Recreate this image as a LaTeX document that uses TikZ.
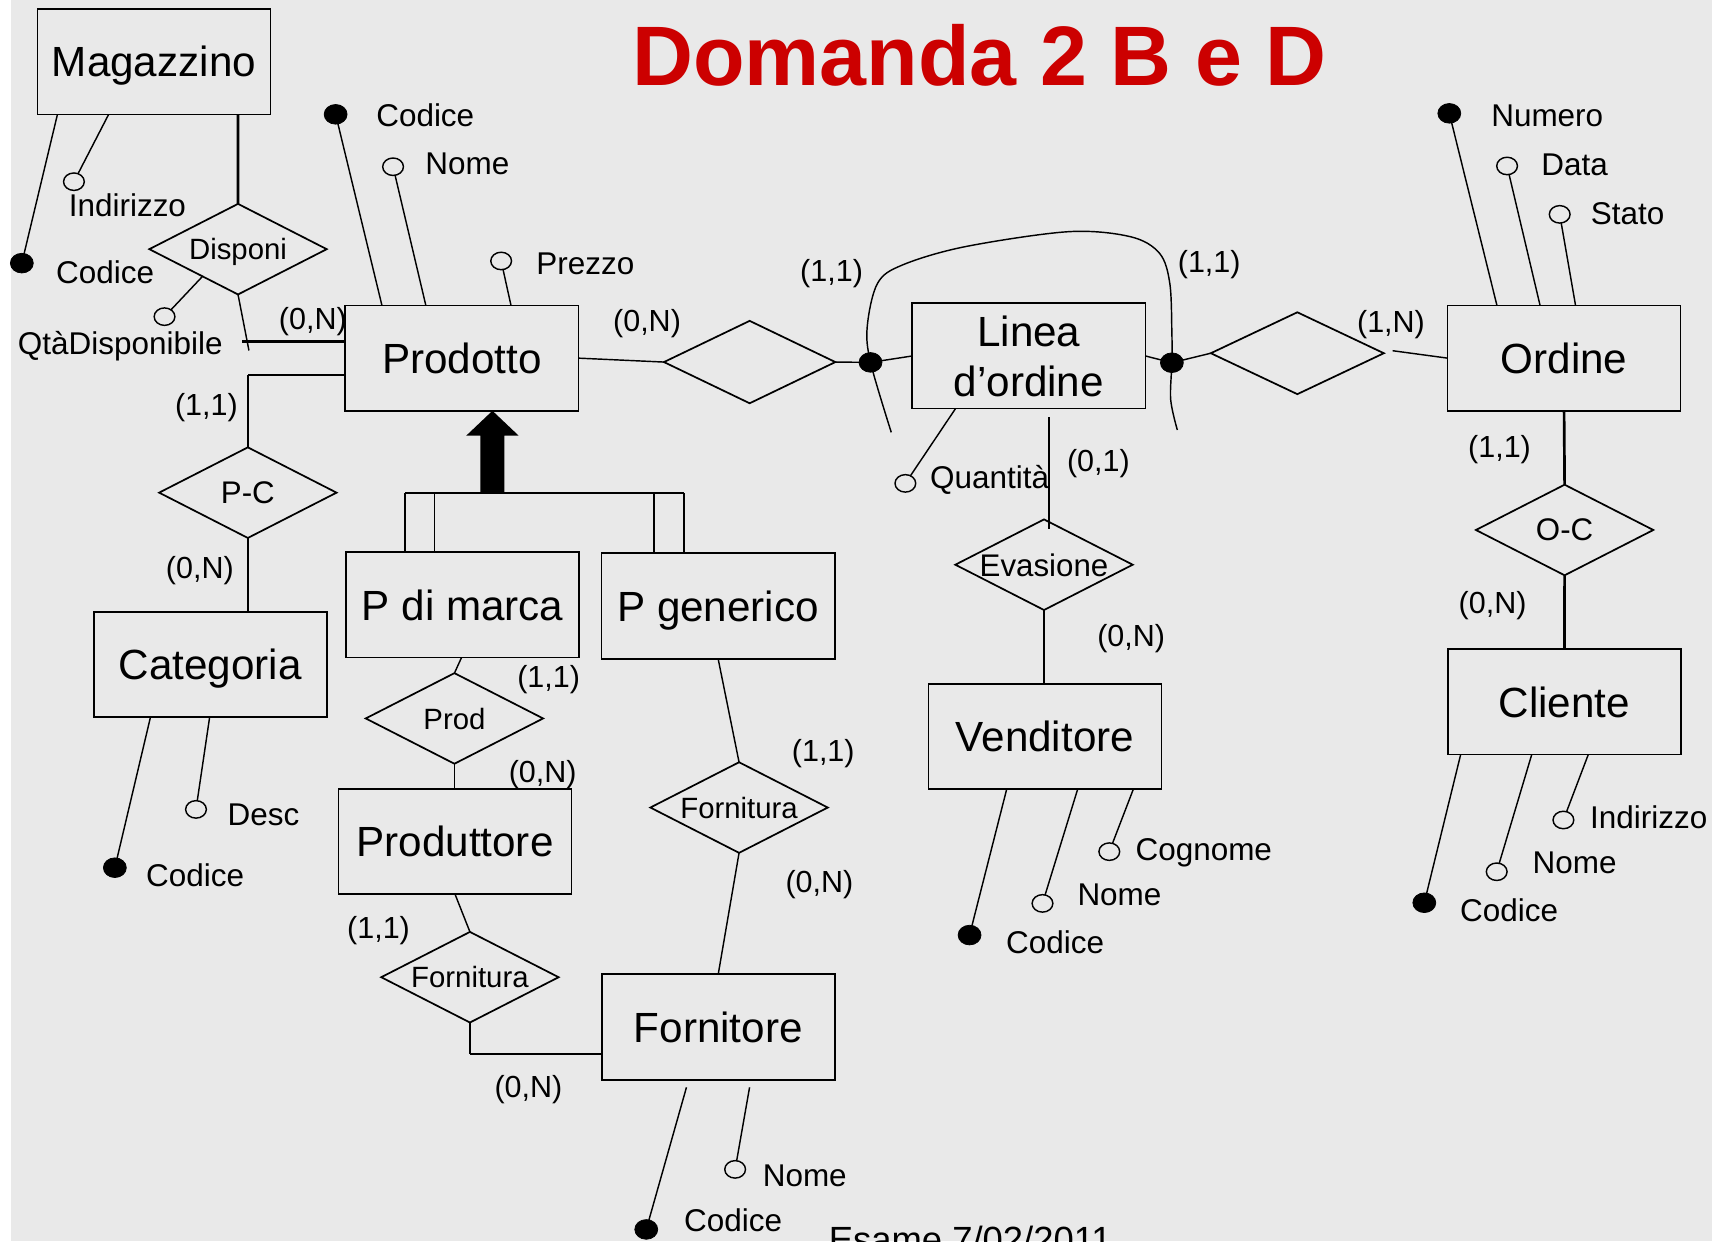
\documentclass[tikz,border=0pt]{standalone}
\usepackage{fontspec}
\setmainfont{Liberation Sans}
\usetikzlibrary{shapes.geometric,calc}
\definecolor{bgcol}{HTML}{E9E9E9}
\definecolor{titred}{HTML}{CC0000}
\newcommand{\entfont}{\fontsize{22}{26}\selectfont}
\newcommand{\attfont}{\fontsize{16.4}{19}\selectfont}
\newcommand{\cardfont}{\fontsize{15.9}{19}\selectfont}
\newcommand{\relfont}{\fontsize{15.3}{18}\selectfont}
\newcommand{\relfontb}{\fontsize{16.3}{19}\selectfont}
\newcommand{\zw}[1]{\makebox[0pt]{#1}}
\begin{document}
\begin{tikzpicture}[x=0.02cm,y=-0.02cm,
 line width=0.75pt,
 entity/.style={draw, rectangle, line width=0.9pt, minimum width=4.27cm, minimum height=1.93cm, inner sep=0pt, outer sep=0pt, font=\entfont, align=center, text depth=0pt},
 rel/.style={draw, diamond, line width=0.9pt, minimum width=3.25cm, minimum height=1.66cm, inner sep=0pt, outer sep=0pt, font=\relfont, text depth=0pt},
 keydot/.style={ellipse, fill=black, draw=black, line width=0.4pt, minimum width=0.42cm, minimum height=0.36cm, inner sep=0pt, outer sep=0pt},
 attc/.style={ellipse, draw, fill=bgcol, line width=0.75pt, minimum width=0.38cm, minimum height=0.32cm, inner sep=0pt, outer sep=0pt},
 attl/.style={anchor=base west, font=\attfont, inner sep=0pt},
 card/.style={font=\cardfont, inner sep=0pt},
 heavy/.style={line width=1.4pt}
]
\useasboundingbox (0,0) rectangle (1568,1137);
\fill[bgcol] (10,0) rectangle (1568,1137);

% title
\node[anchor=base, font=\fontsize{44}{50}\selectfont\bfseries, text=titred, inner sep=0pt] (title) at (897,78) {Domanda 2 B e D};
\node[anchor=base west, font=\fontsize{19}{22}\selectfont, inner sep=0pt] (esame) at (758.4,1147) {Esame 7/02/2011};

% entities
\node[entity] (mag) at (141,56.5) {Magazzino};
\node[entity] (prod) at (423,328) {Prodotto};
\node[entity] (linea) at (942.3,326) {Linea\\d’ordine};
\node[entity] (ordine) at (1432.5,328) {Ordine};
\node[entity] (cat) at (192.5,608.5) {Categoria};
\node[entity] (pmarca) at (423.7,554) {P di marca};
\node[entity] (pgen) at (657.7,555) {P generico};
\node[entity] (produttore) at (416.7,770.6) {Produttore};
\node[entity] (vend) at (957,674.5) {Venditore};
\node[entity] (cliente) at (1432.8,642.7) {Cliente};
\node[entity] (fornitore) at (657.8,940.6) {Fornitore};

% relationships
\node[rel] (disponi) at (218,228.2) {\zw{Disponi}};
\node[rel, minimum width=3.14cm, minimum height=1.51cm] (r1) at (686.6,331.6) {};
\node[rel, minimum width=3.17cm, minimum height=1.5cm] (r2) at (1188.2,323.5) {};
\node[rel, font=\relfontb] (pc) at (227,451.2) {\zw{P-C}};
\node[rel, font=\relfontb] (oc) at (1433,485.4) {\zw{O-C}};
\node[rel, font=\relfontb] (evasione) at (956.2,517.2) {\zw{Evasione}};
\node[rel] (prodr) at (416.2,658) {\zw{Prod}};
\node[rel] (fornR) at (676.9,739.6) {\zw{Fornitura}};
\node[rel] (fornL) at (430.4,895) {\zw{Fornitura}};

% ---------- Magazzino attributes
\node[keydot] (magcod) at (20,241) {};
\node[attl] (magcodl) at (50.8,259.5) {Codice};
\draw ($(mag.south west)+(18.35,0)$) -- (magcod.center);
\node[attc] (magind) at (67.7,166.4) {};
\node[attl] (magindl) at (62.4,198.4) {Indirizzo};
\draw ($(mag.south west)+(65.25,0)$) -- (magind);
\draw[heavy] ($(mag.south west)+(183.75,0)$) -- (disponi.north);

% Disponi attribute and link to Prodotto
\node[attc] (qta) at (150.7,290) {};
\node[attl] (qtal) at (15.8,325) {QtàDisponibile};
\draw ($(disponi.west)!0.6!(disponi.south)$) -- (qta);
\coordinate (dp1) at (228,321);
\coordinate (dp2) at (222,313);
\draw (disponi.south) -- (dp1);
\draw[heavy] (dp2) -- (dp2 -| prod.west);
\node[card] (c1) at (286.5,295) {(0,N)};

% ---------- Prodotto attributes
\node[keydot] (prodcod) at (307.4,104.7) {};
\node[attl] (prodcodl) at (344,116) {Codice};
\draw ($(prod.north west)+(33.55,0)$) -- (prodcod.center);
\node[attc] (prodnom) at (360,152.7) {};
\node[attl] (prodnoml) at (389,160) {Nome};
\draw ($(prod.north west)+(73.75,0)$) -- (prodnom);
\node[attc] (prodprz) at (459,239) {};
\node[attl] (prodprzl) at (490.7,251.5) {Prezzo};
\draw ($(prod.north west)+(151.75,0)$) -- (prodprz);

% Prodotto - P-C - Categoria
\coordinate (pp1) at ($(prod.south west)+(0,-32.75)$);
\draw[heavy] (pp1) -- (pp1 -| pc.north);
\draw (pp1 -| pc.north) -- (pc.north);
\draw (pc.south) -- (pc.south |- cat.north);
\node[card] (c2) at (189,373) {(1,1)};
\node[card] (c3) at (183,523) {(0,N)};

% Categoria attributes
\node[keydot] (catcod) at (105.2,794.7) {};
\node[attl] (catcodl) at (133.2,812) {Codice};
\draw ($(cat.south west)+(52.05,0)$) -- (catcod.center);
\node[attc] (catdesc) at (179.5,741.3) {};
\node[attl] (catdescl) at (207.9,755.6) {Desc};
\draw ($(cat.south west)+(106.25,0)$) -- (catdesc);

% ---------- Prodotto - Linea d'ordine - Ordine
\node[keydot] (dotL) at (797.3,331.9) {};
\node[keydot] (dotR) at (1073.3,332.2) {};
\draw (prod.east) -- (r1.west);
\draw (r1.east) -- (dotL.center) -- (linea.west);
\draw (linea.east) -- (dotR.center) -- (r2.west);
\coordinate (r2g) at ($(r2.east)+(8,-2.3)$);
\draw (r2g) -- (ordine.west);
\node[card] (c4) at (592.6,296) {(0,N)};
\node[card] (c5) at (761.6,250.3) {(1,1)};
\node[card] (c6) at (1107.5,242) {(1,1)};
\node[card] (c7) at (1274,297) {(1,N)};
\coordinate (lq1) at (816.3,396);
\coordinate (lq2) at (1078.3,393.8);
\draw plot[smooth, tension=0.55] coordinates {(lq1) (dotL.center) (794.3,299) (803.7,259.5) (826.5,242.7) (883.5,226) (978.4,212.2) (1035.4,216.8) (1062,232) (1071.4,259.5) (1073.3,305) (dotR.center) (1072.2,366) (lq2)};

% Linea attributes and Evasione
\node[attc] (quant) at (829.2,442.7) {};
\node[attl] (quantl) at (851.2,447.3) {Quantità};
\draw ($(linea.south west)+(39.55,0)$) -- (quant);
\coordinate (ev1) at ($(linea.south west)+(125.05,7.75)$);
\draw (ev1) -- ($(ev1 |- evasione.north)+(0,8.5)$);
\draw (evasione.south) -- (evasione.south |- vend.north);
\node[card] (c8) at (1006,424.3) {(0,1)};
\node[card] (c9) at (1036,585) {(0,N)};

% Venditore attributes
\node[keydot] (vcod) at (888,856.4) {};
\node[attl] (vcodl) at (920.8,873) {Codice};
\draw ($(vend.south west)+(71.75,0)$) -- (vcod.center);
\node[attc] (vnom) at (954.8,827.4) {};
\node[attl] (vnoml) at (986.2,829) {Nome};
\draw ($(vend.south west)+(136.75,0)$) -- (vnom);
\node[attc] (vcog) at (1016,780) {};
\node[attl] (vcogl) at (1039.4,787.7) {Cognome};
\draw ($(vend.south west)+(187.75,0)$) -- (vcog);

% ---------- Ordine attributes
\node[keydot] (onum) at (1327.4,103.8) {};
\node[attl] (onuml) at (1365.2,116) {Numero};
\draw ($(ordine.north west)+(45.25,0)$) -- (onum.center);
\node[attc] (odata) at (1380.3,152) {};
\node[attl] (odatal) at (1411,160.3) {Data};
\draw ($(ordine.north west)+(84.75,0)$) -- (odata);
\node[attc] (ostato) at (1428.5,196.3) {};
\node[attl] (ostatol) at (1456.3,206) {Stato};
\draw ($(ordine.north west)+(117.25,0)$) -- (ostato);

% Ordine - O-C - Cliente
\draw[heavy] (ordine.south) -- (oc.north);
\draw[heavy] (oc.south) -- (cliente.north);
\node[card] (c10) at (1373.4,411.4) {(1,1)};
\node[card] (c11) at (1367,555) {(0,N)};

% Cliente attributes
\node[keydot] (ccod) at (1304.5,826.8) {};
\node[attl] (ccodl) at (1336.6,844) {Codice};
\draw ($(cliente.south west)+(11.75,0)$) -- (ccod.center);
\node[attc] (cnom) at (1370.8,798.4) {};
\node[attl] (cnoml) at (1403,800) {Nome};
\draw ($(cliente.south west)+(76.85,0)$) -- (cnom);
\node[attc] (cind) at (1431.9,751) {};
\node[attl] (cindl) at (1455.7,758.7) {Indirizzo};
\draw ($(cliente.south west)+(128.65,0)$) -- (cind);

% ---------- Generalization
\coordinate (tip) at ($(prod.south west)+(134.75,0)$);
\fill (tip) -- ++(24,22.75) -- ++(-13,0) -- ++(0,52.6) -- ++(-22,0) -- ++(0,-52.6) -- ++(-13,0) -- cycle;
\coordinate (gA) at (371,451.6);
\coordinate (gB) at (398,451.6);
\coordinate (gC) at (599,451.6);
\coordinate (gD) at (626.5,451.6);
\draw[heavy] (gA) -- (gD);
\draw (gA) -- (gA |- pmarca.north);
\draw (gB) -- (gB |- pmarca.north);
\draw (gC) -- (gC |- pgen.north);
\draw (gD) -- (gD |- pgen.north);

% P di marca - Prod - Produttore
\draw ($(pmarca.south)+(-1,0)$) -- (prodr.north);
\draw (prodr.south) -- (prodr.south |- produttore.north);
\node[card] (c12) at (502.5,622) {(1,1)};
\node[card] (c13) at (497,709) {(0,N)};

% Produttore - Fornitura - Fornitore
\draw (produttore.south) -- (fornL.north);
\coordinate (fw) at ($(fornitore.south west)+(0,-23.45)$);
\draw (fornL.south) -- (fornL.south |- fw);
\draw[heavy] (fornL.south |- fw) -- (fw);
\node[card] (c14) at (346.7,852) {(1,1)};
\node[card] (c15) at (484,998) {(0,N)};

% P generico - Fornitura - Fornitore
\draw (pgen.south) -- (fornR.north);
\draw (fornR.south) -- (fornitore.north);
\node[card] (c16) at (754,690) {(1,1)};
\node[card] (c17) at (750.5,810) {(0,N)};

% Fornitore attributes
\node[keydot] (fcod) at (591.9,1126) {};
\node[attl] (fcodl) at (626,1128) {Codice};
\draw ($(fornitore.south west)+(77.65,7)$) -- (fcod.center);
\node[attc] (fnom) at (673.3,1071) {};
\node[attl] (fnoml) at (698,1087) {Nome};
\draw ($(fornitore.south west)+(135.45,7)$) -- (fnom);
\end{tikzpicture}
\end{document}
